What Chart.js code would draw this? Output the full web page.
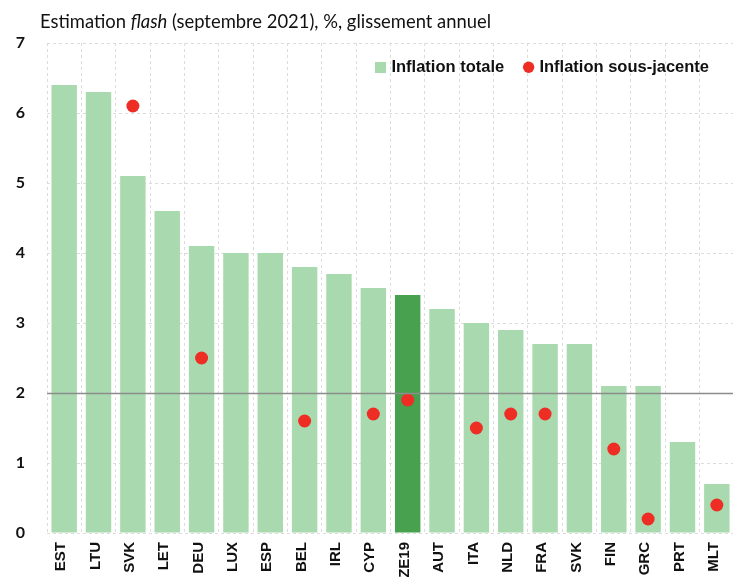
<!DOCTYPE html>
<html><head><meta charset="utf-8">
<script src="https://cdn.jsdelivr.net/npm/chart.js@4.4.0/dist/chart.umd.min.js"></script>
<style>
html,body{margin:0;padding:0;background:#fff;overflow:hidden;width:733px;height:577px;}
#wrap{position:absolute;left:0;top:0;width:744px;height:600px;}
#title{position:absolute;left:40px;top:12px;font-family:Lato, sans-serif;font-size:18.4px;line-height:18px;color:#111;white-space:nowrap;}
</style></head><body>
<div id="wrap"><canvas id="c" width="744" height="600"></canvas></div>
<div id="title">Estimation <i>flash</i> (septembre 2021), %, glissement annuel</div>
<script>
const categories = ['EST','LTU','SVK','LET','DEU','LUX','ESP','BEL','IRL','CYP','ZE19','AUT','ITA','NLD','FRA','SVK','FIN','GRC','PRT','MLT'];
const inflationTotale = [6.4,6.3,5.1,4.6,4.1,4.0,4.0,3.8,3.7,3.5,3.4,3.2,3.0,2.9,2.7,2.7,2.1,2.1,1.3,0.7];
const inflationSousJacente = [null,null,6.1,null,2.5,null,null,1.6,null,1.7,1.9,null,1.5,1.7,1.7,null,1.2,0.2,null,0.4];
const yTicks = [0,1,2,3,4,5,6,7];
const referenceLevel = 2;

const LIGHT = '#a9d9ae', DARK = '#47a14f', RED = '#ee2d24';

const sq = document.createElement('canvas');
sq.width = 11; sq.height = 11;
const sctx = sq.getContext('2d'); sctx.fillStyle = LIGHT; sctx.fillRect(0,0,11,11);

const refLine = {
  id:'refLine',
  afterDatasetsDraw(chart){
    const y = Math.round(chart.scales.y.getPixelForValue(referenceLevel)) + 0.5;
    const {left,right} = chart.chartArea;
    const ctx = chart.ctx;
    ctx.save();
    ctx.strokeStyle = '#8c8c8c'; ctx.lineWidth = 1.3;
    ctx.beginPath(); ctx.moveTo(left,y); ctx.lineTo(right,y); ctx.stroke();
    ctx.restore();
  }
};
const legendShift = {
  id:'legendShift',
  afterLayout(chart){
    const lg = chart.legend; if(!lg) return;
    lg.left = 0; lg.right = 731; lg.top = 37; lg.bottom = 80;
  }
};

new Chart(document.getElementById('c'), {
  type:'bar',
  data:{
    labels: categories,
    datasets:[
      { type:'bar', label:'Inflation totale', data: inflationTotale, order:1,
        backgroundColor: ctx => categories[ctx.dataIndex]==='ZE19' ? DARK : LIGHT,
        borderWidth:0, barPercentage:0.74, categoryPercentage:1 },
      { type:'line', label:'Inflation sous-jacente', data: inflationSousJacente, order:0,
        showLine:false, pointRadius:6.5, pointHoverRadius:6.5, pointBackgroundColor:RED,
        pointBorderWidth:0, borderColor:RED, backgroundColor:RED }
    ]
  },
  options:{
    responsive:false, devicePixelRatio:1, animation:false,
    layout:{ padding:{ top:43, left:0, right:0, bottom:0 } },
    plugins:{
      tooltip:{enabled:false},
      title:{display:false},
      legend:{
        position:'top', align:'end', maxHeight:0.001,
        labels:{
          usePointStyle:true, boxWidth:5, boxHeight:8, padding:22, color:'#111',
          font:{ family:'Liberation Sans', weight:'bold', size:16.5 },
          sort:(a,b)=>a.datasetIndex-b.datasetIndex,
          generateLabels(chart){
            const items = Chart.defaults.plugins.legend.labels.generateLabels(chart);
            items.forEach(it=>{
              if(it.datasetIndex===0){ it.pointStyle = sq; it.lineWidth = 0; }
              else { it.pointStyle='circle'; it.fillStyle=RED; it.strokeStyle=RED; it.lineWidth=0; }
            });
            return items;
          }
        }
      }
    },
    scales:{
      x:{
        offset:true,
        grid:{ color:'#dcdcdc', drawTicks:false, offset:true },
        border:{ display:false, dash:[3,3] },
        ticks:{ minRotation:90, maxRotation:90, autoSkip:false, padding:9, labelOffset:-3, color:'#111',
          font:{ family:'Liberation Sans', weight:'bold', size:15 } },
        afterFit(s){ s.height = 67; }
      },
      y:{
        min:0, max:7,
        afterBuildTicks(s){ s.ticks = yTicks.map(v=>({value:v})); },
        grid:{ color:'#dcdcdc', drawTicks:false },
        border:{ display:false, dash:[3,3] },
        ticks:{ padding:22, color:'#111', font:{ family:'Lato', weight:'bold', size:16 } },
        afterFit(s){ s.width = 47; }
      }
    }
  },
  plugins:[refLine, legendShift]
});
</script>
</body></html>
